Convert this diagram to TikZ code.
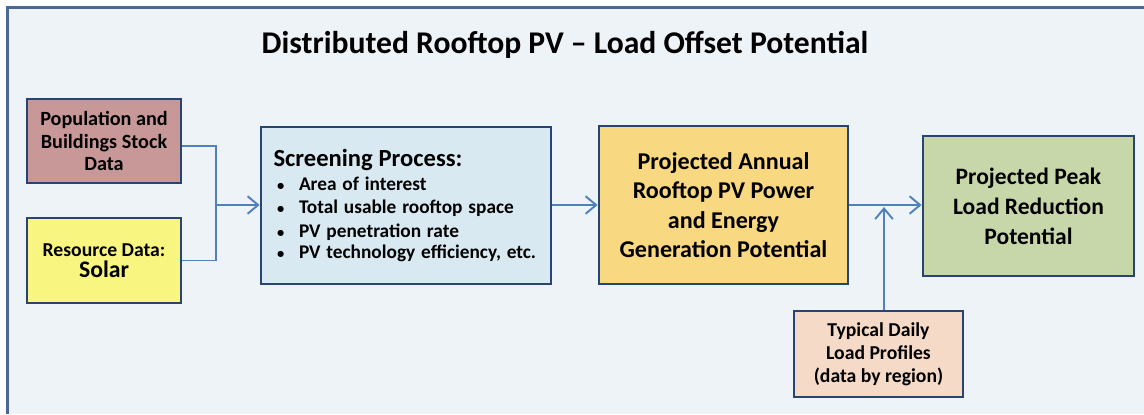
\documentclass[tikz,border=0pt]{standalone}
\usepackage{fontspec}
\setmainfont{Carlito}
\usepackage{tikz}
\usetikzlibrary{positioning,arrows.meta}

\definecolor{frameblue}{RGB}{74,104,150}
\definecolor{edgeblue}{RGB}{40,68,114}
\definecolor{arrowblue}{RGB}{79,129,189}
\definecolor{bgblue}{RGB}{238,243,248}
\definecolor{popfill}{RGB}{200,152,152}
\definecolor{resfill}{RGB}{248,246,128}
\definecolor{scrfill}{RGB}{216,233,241}
\definecolor{annfill}{RGB}{248,216,128}
\definecolor{peakfill}{RGB}{200,215,170}
\definecolor{typfill}{RGB}{245,218,200}
\newcommand{\bul}{\makebox[14.5pt][l]{\hspace{2pt}\scalebox{0.75}{\textbullet}}}

\begin{document}
\begin{tikzpicture}[x=0.02cm,y=-0.02cm,
    box/.style={draw=edgeblue, line width=1.6pt, align=center, font=\bfseries, inner sep=2pt},
    flow/.style={draw=arrowblue, line width=1.1pt},
    flowarrow/.style={flow, -{Straight Barb[length=6pt,width=10pt]}}]
        \useasboundingbox (0,0) rectangle (1144,414);
        \fill[bgblue] (6,7) rectangle (1144,414);
        \draw[frameblue, line width=1.7pt] (1144,7.5) -- (7.5,7.5) -- (7.5,414);
        \node[font=\bfseries\fontsize{18}{21}\selectfont] (title) at (565,45) {Distributed Rooftop PV -- Load Offset Potential};
        \node[box, fill=popfill, minimum width=3.08cm, minimum height=1.68cm, font=\bfseries\fontsize{11.5}{12.8}\selectfont] (pop) at (104,141) {Population and\\Buildings Stock\\Data};
        \node[box, fill=resfill, minimum width=3.08cm, minimum height=1.7cm] (res) at (104,260.5) {{\fontsize{11.2}{13}\selectfont Resource Data:}\\{\fontsize{13.5}{16}\selectfont Solar}};
        \node[box, fill=scrfill, minimum width=5.8cm, minimum height=3.14cm, align=left, text width=5.3cm] (scr) at (406,205.5) {%
            {\fontsize{14}{15}\selectfont Screening Process:}\\[0pt]
            {\fontsize{11}{13.6}\selectfont
            \bul Area of interest\\
            \bul Total usable rooftop space\\
            \bul PV penetration rate\\
            \bul PV technology efficiency, etc.}};
        \node[box, fill=annfill, minimum width=4.98cm, minimum height=3.16cm, font=\bfseries\fontsize{13.7}{16.7}\selectfont] (ann) at (723.5,205) {Projected Annual\\Rooftop PV Power\\and Energy\\Generation Potential};
        \node[box, fill=peakfill, minimum width=4.22cm, minimum height=2.8cm, font=\bfseries\fontsize{13.4}{17}\selectfont] (peak) at (1028.5,206) {Projected Peak\\Load Reduction\\Potential};
        \node[box, fill=typfill, minimum width=3.38cm, minimum height=1.72cm, font=\bfseries\fontsize{11.2}{13}\selectfont] (typ) at (878.5,354) {Typical Daily\\Load Profiles\\(data by region)};
        \coordinate (join) at (216,205);
        \coordinate (merge) at (884,205);
        \draw[flow] ([yshift=-0.1cm]pop.east) -| (join) |- (res.east);
        \draw[flowarrow] (join) -- (join -| scr.west);
        \draw[flowarrow] (scr.east |- join) -- (ann.west |- join);
        \draw[flowarrow] (ann.east |- merge) -- (peak.west |- merge);
        \draw[flowarrow] (typ.north -| merge) -- ([yshift=-0.04cm]merge);
      \end{tikzpicture}
\end{document}
